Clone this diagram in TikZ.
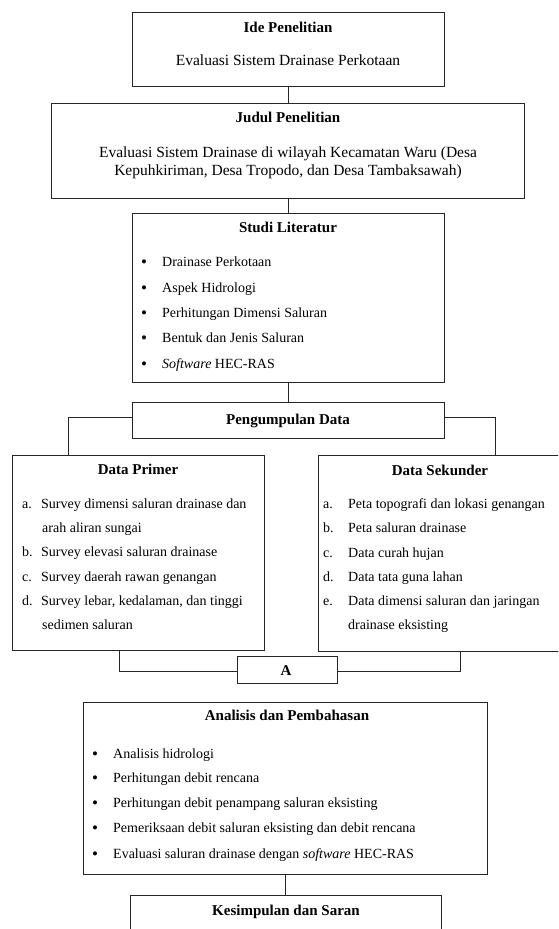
\documentclass[tikz,border=0pt]{standalone}
\usepackage{fontspec}
\setmainfont{Liberation Serif}
\begin{document}
\begin{tikzpicture}[x=1pt,y=-1pt,
  box/.style={draw=black!85, line width=0.9pt, inner sep=0pt, fill=none},
  conn/.style={draw=black!85, line width=0.9pt},
  ttl/.style={inner sep=0pt, anchor=base, font=\fontsize{15}{18}\selectfont\bfseries},
  mid/.style={inner sep=0pt, anchor=base, font=\fontsize{15.5}{18}\selectfont},
  itm/.style={inner sep=0pt, anchor=base west, font=\fontsize{14}{17}\selectfont},
  bul/.style={inner sep=0pt, anchor=base, font=\fontsize{17}{17}\selectfont}]
\useasboundingbox (0,0) rectangle (558,929);
\clip (0,0) rectangle (558,929);
\fill[white] (0,0) rectangle (558,929);

% boxes
\node[box, minimum width=312pt, minimum height=74pt] (ide) at (288,49) {};
\node[box, minimum width=473pt, minimum height=95pt] (judul) at (287.5,150.5) {};
\node[box, minimum width=312pt, minimum height=169pt] (studi) at (288,297.5) {};
\node[box, minimum width=312pt, minimum height=36pt] (peng) at (288,420) {};
\node[box, minimum width=252pt, minimum height=195pt] (primer) at (138,552.5) {};
\node[box, minimum width=244pt, minimum height=196pt] (sekunder) at (440,553) {};
\node[box, minimum width=100pt, minimum height=27pt] (A) at (287,669.5) {};
\node[box, minimum width=404pt, minimum height=172pt] (analisis) at (285,788) {};
\node[box, minimum width=311pt, minimum height=65pt] (kesim) at (285.5,927.5) {};

% connectors
\draw[conn] (ide.south) -- (ide.south |- judul.north);
\draw[conn] (studi.north |- judul.south) -- (studi.north);
\draw[conn] (studi.south) -- (peng.north);
\coordinate (pl) at (68,455);
\coordinate (pr) at (495,455);
\draw[conn] ([yshift=3pt]peng.west) -| (pl);
\draw[conn] ([yshift=3pt]peng.east) -| (pr);
\coordinate (pb) at (119,650);
\coordinate (sb) at (460,651);
\draw[conn] (pb) |- ([yshift=-1.5pt]A.west);
\draw[conn] (sb) |- ([yshift=-1.5pt]A.east);
\draw[conn] (kesim.north |- analisis.south) -- (kesim.north);

% Ide Penelitian
\node[ttl] (t1) at (288,32) {Ide Penelitian};
\node[mid] (t1a) at (288,65) {Evaluasi Sistem Drainase Perkotaan};

% Judul
\node[ttl] (t2) at (288,122) {Judul Penelitian};
\node[mid] (t2a) at (288,157) {Evaluasi Sistem Drainase di wilayah Kecamatan Waru (Desa};
\node[mid] (t2b) at (288,175) {Kepuhkiriman, Desa Tropodo, dan Desa Tambaksawah)};

% Studi Literatur
\node[ttl] (t3) at (288,232) {Studi Literatur};
\foreach \yy/\tx [count=\i] in {266/{Drainase Perkotaan},292/{Aspek Hidrologi},317/{Perhitungan Dimensi Saluran},342/{Bentuk dan Jenis Saluran},368/{\textit{Software} HEC-RAS}}{
  \node[bul] (sb\i) at (144,\yy+1) {•};
  \node[itm] (si\i) at (162,\yy) {\tx};
}

% Pengumpulan Data
\node[ttl] (t4) at (288,424) {Pengumpulan Data};

% Data Primer
\node[ttl] (t5) at (138,474) {Data Primer};
\foreach \yy/\lb/\tx [count=\i] in {508/a./{Survey dimensi saluran drainase dan},556/b./{Survey elevasi saluran drainase},581/c./{Survey daerah rawan genangan},605/d./{Survey lebar, kedalaman, dan tinggi}}{
  \node[itm] (pl\i) at (22,\yy) {\lb};
  \node[itm] (pi\i) at (41,\yy) {\tx};
}
\node[itm] (pc1) at (42,532) {arah aliran sungai};
\node[itm] (pc2) at (42,629) {sedimen saluran};

% Data Sekunder
\node[ttl] (t6) at (440,475) {Data Sekunder};
\foreach \yy/\lb/\tx [count=\i] in {508/a./{Peta topografi dan lokasi genangan},532/b./{Peta saluran drainase},557/c./{Data curah hujan},581/d./{Data tata guna lahan},605/e./{Data dimensi saluran dan jaringan}}{
  \node[itm] (dl\i) at (323,\yy) {\lb};
  \node[itm] (di\i) at (348,\yy) {\tx};
}
\node[itm] (dc1) at (348,629) {drainase eksisting};

% A
\node[ttl] (tA) at (286,675) {A};

% Analisis
\node[ttl] (t7) at (287,720) {Analisis dan Pembahasan};
\foreach \yy/\tx [count=\i] in {758/{Analisis hidrologi},782/{Perhitungan debit rencana},807/{Perhitungan debit penampang saluran eksisting},832/{Pemeriksaan debit saluran eksisting dan debit rencana},858/{Evaluasi saluran drainase dengan \textit{software} HEC-RAS}}{
  \node[bul] (ab\i) at (95,\yy+1) {•};
  \node[itm] (ai\i) at (113,\yy) {\tx};
}

% Kesimpulan
\node[ttl] (t8) at (286,915) {Kesimpulan dan Saran};
\end{tikzpicture}
\end{document}
